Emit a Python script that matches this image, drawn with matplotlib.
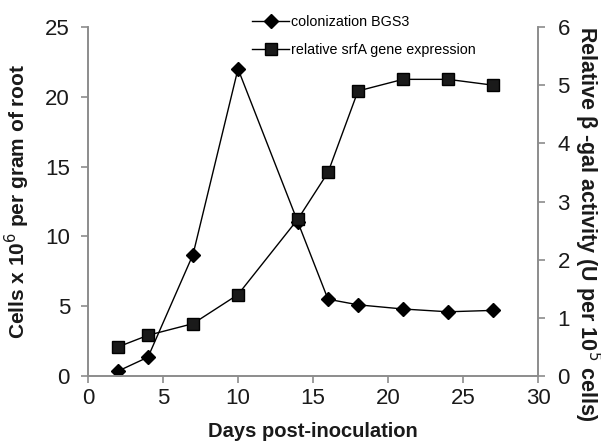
import matplotlib
matplotlib.use("Agg")
import matplotlib.pyplot as plt
from matplotlib.lines import Line2D

plt.rcParams['font.family'] = ['Liberation Sans', 'DejaVu Sans']

# datos
days = [2, 4, 7, 10, 14, 16, 18, 21, 24, 27]
colonization = [0.35, 1.35, 8.7, 22.0, 11.0, 5.5, 5.1, 4.8, 4.6, 4.7]
srfa_expr = [0.5, 0.7, 0.9, 1.4, 2.7, 3.5, 4.9, 5.1, 5.1, 5.0]

left_ticks = [0, 5, 10, 15, 20, 25]
right_ticks = [0, 1, 2, 3, 4, 5, 6]
x_ticks = [0, 5, 10, 15, 20, 25, 30]

grey = "#8c8c8c"

fig = plt.figure(figsize=(6.01, 4.43), dpi=100)
ax1 = fig.add_axes([88 / 601, 67 / 443, 450 / 601, 349 / 443])
ax2 = ax1.twinx()

ax1.plot(days, colonization, color="black", lw=1.0, marker="D", ms=7,
         mfc="black", mec="black", label="colonization BGS3")
ax2.plot(days, srfa_expr, color="black", lw=1.0, marker="s", ms=8.5,
         mfc="#1a1a1a", mec="black", label="relative srfA gene expression")

ax1.set_xlim(0, 30)
ax1.set_ylim(0, 25)
ax2.set_ylim(0, 6)
ax1.set_xticks(x_ticks)
ax1.set_yticks(left_ticks)
ax2.set_yticks(right_ticks)

for a in (ax1, ax2):
    a.spines["top"].set_visible(False)
    for s in ("left", "right", "bottom"):
        a.spines[s].set_color(grey)
        a.spines[s].set_linewidth(1.2)
    a.tick_params(colors=grey, labelcolor="#1a1a1a", labelsize=16,
                  length=5, width=1.2, direction="out")
ax1.tick_params(axis="y", pad=8)
ax1.tick_params(axis="x", pad=4)
ax2.tick_params(axis="y", pad=9)

ax1.set_xlabel("Days post-inoculation", fontsize=14.5, fontweight="bold",
               color="#1a1a1a", labelpad=9)
ax1.set_ylabel("Cells x 10$^{6}$ per gram of root", fontsize=15,
               fontweight="bold", color="#1a1a1a")
ax1.yaxis.set_label_coords(-0.125, 0.5)
ax2.set_ylabel("Relative \u03b2 -gal activity (U per 10$^{5}$ cells)",
               fontsize=15.5, fontweight="bold", color="#1a1a1a",
               rotation=270, va="center")
ax2.yaxis.set_label_coords(1.108, 0.435)

handles = [
    Line2D([], [], color="black", lw=1.0, marker="D", ms=7, mfc="black"),
    Line2D([], [], color="black", lw=1.0, marker="s", ms=8.5, mfc="#1a1a1a"),
]
fig.legend(handles, ["colonization BGS3", "relative srfA gene expression"],
           loc="upper left", bbox_to_anchor=(245 / 601, 1 - 8 / 443),
           frameon=False, fontsize=10.3, handlelength=2.6,
           handletextpad=0.15, labelspacing=1.0, borderpad=0)

fig.savefig("out.png", dpi=100)
